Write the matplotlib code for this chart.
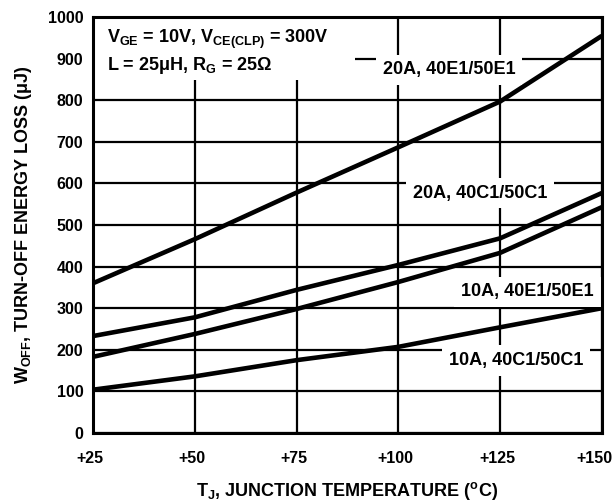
import numpy as np
import matplotlib
matplotlib.use("Agg")
import matplotlib.pyplot as plt
import matplotlib.transforms as mtransforms
from matplotlib.patches import Rectangle

plt.rcParams['font.family'] = ['Liberation Sans', 'DejaVu Sans']
plt.rcParams['font.weight'] = 'bold'
plt.rcParams['mathtext.fontset'] = 'custom'
plt.rcParams['mathtext.rm'] = 'Liberation Sans:bold'
plt.rcParams['mathtext.it'] = 'Liberation Sans:bold'
plt.rcParams['mathtext.bf'] = 'Liberation Sans:bold'

# --- Data ---
temps = [25, 50, 75, 100, 125, 150]
e_20a_e1 = [360, 466, 578, 687, 797, 955]
e_20a_c1 = [233, 278, 344, 404, 468, 577]
e_10a_e1 = [183, 238, 298, 363, 433, 543]
e_10a_c1 = [104, 136, 175, 207, 254, 300]

series = [e_20a_e1, e_20a_c1, e_10a_e1, e_10a_c1]
labels = ["20A, 40E1/50E1", "20A, 40C1/50C1", "10A, 40E1/50E1", "10A, 40C1/50C1"]
label_pos = [(112.5, 873), (120.0, 577), (131.7, 339), (129.0, 175)]

xticks = [25, 50, 75, 100, 125, 150]
xticklabels = ["+25", "+50", "+75", "+100", "+125", "+150"]
yticks = list(range(0, 1001, 100))

# --- Figure ---
fig = plt.figure(figsize=(6.16, 5.04), dpi=100)
ax = fig.add_axes([0.151, 0.141, 0.826, 0.825])

for s in series:
    ax.plot(temps, s, color="black", lw=3.3, solid_capstyle="butt", zorder=3)

ax.set_xlim(25, 150)
ax.set_ylim(0, 1000)
ax.set_xticks(xticks)
ax.set_xticklabels(xticklabels)
ax.set_yticks(yticks)
ax.grid(True, color="black", lw=1.6)
ax.set_axisbelow(True)
ax.tick_params(axis="x", length=0, labelsize=11.5, pad=13)
ax.tick_params(axis="y", length=0, labelsize=11.5, pad=7)
xl = ax.get_xticklabels()
for i, lab in enumerate(xl):
    dx = -0.07 if i == len(xl) - 1 else -0.03
    lab.set_transform(lab.get_transform() + mtransforms.ScaledTranslation(dx, 0, fig.dpi_scale_trans))
for lab in ax.get_xticklabels() + ax.get_yticklabels():
    lab.set_fontweight("bold")
for sp in ax.spines.values():
    sp.set_linewidth(2.2)
    sp.set_zorder(5)

for txt, (x, y) in zip(labels, label_pos):
    ax.text(x, y, txt, ha="center", va="center", fontsize=13, fontweight="bold",
            bbox=dict(facecolor="white", edgecolor="none", pad=5), zorder=4)

# conditions box, top left
ax.add_patch(Rectangle((0, 0.849), 0.515, 0.151, transform=ax.transAxes,
                       facecolor="white", edgecolor="none", zorder=2.5))
ax.text(28.4, 937, "V$_{GE}$ = 10V, V$_{CE(CLP)}$ = 300V", ha="left", va="baseline",
        fontsize=13, fontweight="bold", zorder=4)
ax.text(28.4, 873, "L = 25μH, R$_G$ = 25Ω", ha="left", va="baseline",
        fontsize=13, fontweight="bold", zorder=4)

ax.set_xlabel("T$_J$, JUNCTION TEMPERATURE ($^o$C)", fontsize=13, fontweight="bold", labelpad=10)
ax.set_ylabel("W$_{OFF}$, TURN-OFF ENERGY LOSS (μJ)", fontsize=13, fontweight="bold", labelpad=10)

fig.savefig("out.png", dpi=100)
